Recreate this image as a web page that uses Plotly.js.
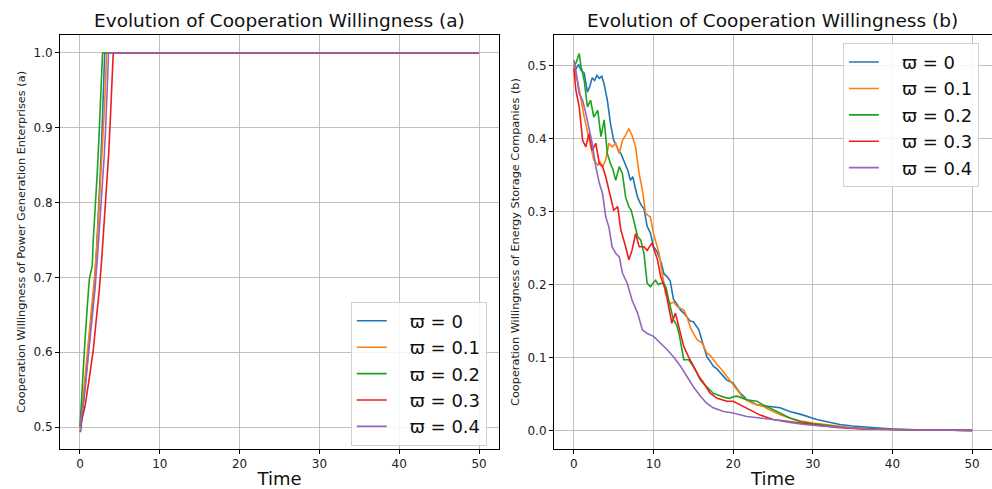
<!DOCTYPE html>
<html>
<head>
<meta charset="utf-8">
<script src="https://cdn.plot.ly/plotly-3.0.1.min.js"></script>
<style>html,body{margin:0;padding:0;background:#fff;}#chart{width:992px;height:489px;}</style>
</head>
<body>
<div id="chart"></div>
<script>
// ---------- data ----------
const seriesNames = ['ϖ = 0', 'ϖ = 0.1', 'ϖ = 0.2', 'ϖ = 0.3', 'ϖ = 0.4'];
const seriesColors = ['#1f77b4', '#ff7f0e', '#1ca31c', '#ee1c1c', '#9467bd'];
const xTicks = [0, 10, 20, 30, 40, 50];
const yTicksA = [0.5, 0.6, 0.7, 0.8, 0.9, 1.0];
const yTicksB = [0.0, 0.1, 0.2, 0.3, 0.4, 0.5];

// (a) Power generation enterprises
const a0_t = [0, 0.1, 0.6, 1.0, 1.4, 1.8, 2.1, 2.35, 2.55, 2.75, 2.9, 3.05, 3.1, 50];
const a0_v = [0.493, 0.495, 0.55, 0.6, 0.645, 0.69, 0.74, 0.79, 0.84, 0.89, 0.94, 0.98, 1.0, 1.0];
const a1_t = [0, 0.5, 0.92, 1.25, 1.58, 1.875, 2.17, 2.42, 2.67, 2.875, 3.08, 3.25, 3.33, 50];
const a1_v = [0.495, 0.549, 0.594, 0.63, 0.67, 0.706, 0.75, 0.795, 0.84, 0.885, 0.929, 0.974, 1.0, 1.0];
const a2_t = [0, 0.2, 0.42, 0.63, 0.92, 1.17, 1.375, 1.54, 1.67, 1.96, 2.17, 2.375, 2.58, 2.75, 2.83, 50];
const a2_v = [0.5, 0.54, 0.571, 0.616, 0.661, 0.697, 0.708, 0.715, 0.75, 0.795, 0.84, 0.885, 0.929, 0.974, 1.0, 1.0];
const a3_t = [0, 0.33, 0.625, 1.25, 1.67, 2.0, 2.42, 2.75, 3.04, 3.33, 3.58, 3.79, 4.0, 4.17, 50];
const a3_v = [0.5, 0.513, 0.527, 0.571, 0.603, 0.639, 0.683, 0.728, 0.773, 0.818, 0.862, 0.907, 0.952, 1.0, 1.0];
const a4_t = [0, 0.63, 1.04, 1.46, 1.875, 2.2, 2.5, 2.79, 3.04, 3.25, 3.42, 3.58, 50];
const a4_v = [0.5, 0.549, 0.594, 0.639, 0.683, 0.728, 0.773, 0.818, 0.862, 0.907, 0.952, 1.0, 1.0];

// (b) Energy storage companies
const b0_t = [0, 0.3, 0.6, 0.9, 1.3, 1.5, 1.7, 2.0, 2.3, 2.6, 2.9, 3.2, 3.5, 3.8, 4.2, 4.6, 5.0, 5.3, 5.6, 5.9, 6.2, 6.5, 6.8, 7.1, 7.4, 7.7, 8.0, 8.4, 8.8, 9.2, 9.6, 10.0, 10.4, 10.7, 11.0, 11.3, 11.7, 12.1, 12.5, 13.0, 13.4, 13.8, 14.2, 14.6, 15.0, 15.4, 15.7, 16.0, 16.3, 16.7, 17.1, 17.5, 18.0, 18.4, 18.8, 19.2, 19.6, 20.0, 20.5, 20.9, 21.3, 21.7, 22.3, 23.0, 23.6, 24.2, 25.0, 25.9, 27.1, 28.5, 30.5, 32.0, 33.4, 35.0, 37.0, 40.0, 43.0, 46.0, 50.0];
const b0_v = [0.500, 0.497, 0.502, 0.494, 0.490, 0.478, 0.464, 0.472, 0.484, 0.480, 0.487, 0.483, 0.486, 0.475, 0.453, 0.421, 0.398, 0.392, 0.384, 0.380, 0.372, 0.362, 0.356, 0.343, 0.348, 0.333, 0.320, 0.310, 0.304, 0.280, 0.271, 0.252, 0.246, 0.238, 0.229, 0.215, 0.211, 0.205, 0.180, 0.172, 0.165, 0.161, 0.156, 0.150, 0.149, 0.142, 0.138, 0.126, 0.115, 0.101, 0.095, 0.088, 0.084, 0.079, 0.075, 0.069, 0.067, 0.065, 0.057, 0.051, 0.047, 0.042, 0.039, 0.035, 0.034, 0.033, 0.032, 0.031, 0.026, 0.022, 0.015, 0.011, 0.008, 0.006, 0.004, 0.002, 0.001, 0.0005, 0.0];
const b1_t = [0, 0.25, 0.5, 0.9, 1.3, 1.7, 2.1, 2.5, 3.0, 3.3, 3.6, 4.0, 4.4, 4.8, 5.25, 5.7, 6.1, 6.5, 6.9, 7.3, 7.75, 8.2, 8.6, 9.0, 9.3, 9.6, 10.0, 10.4, 10.7, 11.1, 11.5, 12.1, 12.5, 13.0, 13.4, 13.8, 14.2, 14.6, 15.0, 15.5, 16.1, 16.7, 17.1, 17.5, 18.0, 18.6, 19.1, 19.6, 20.0, 20.5, 20.9, 21.3, 21.9, 22.5, 23.2, 23.8, 24.4, 25.0, 26.0, 27.1, 28.5, 30.0, 32.0, 34.0, 36.0, 38.0, 41.0, 45.0, 50.0];
const b1_v = [0.500, 0.485, 0.478, 0.453, 0.430, 0.410, 0.389, 0.371, 0.364, 0.368, 0.362, 0.371, 0.394, 0.389, 0.394, 0.380, 0.398, 0.405, 0.414, 0.405, 0.389, 0.352, 0.330, 0.298, 0.295, 0.293, 0.270, 0.255, 0.243, 0.215, 0.188, 0.174, 0.176, 0.170, 0.168, 0.165, 0.156, 0.142, 0.133, 0.124, 0.120, 0.106, 0.103, 0.097, 0.090, 0.083, 0.076, 0.069, 0.063, 0.056, 0.050, 0.044, 0.040, 0.037, 0.035, 0.033, 0.029, 0.026, 0.021, 0.017, 0.013, 0.010, 0.007, 0.005, 0.003, 0.002, 0.001, 0.0005, 0.0];
const b2_t = [0, 0.3, 0.67, 0.9, 1.3, 1.7, 2.1, 2.5, 3.0, 3.4, 3.8, 4.2, 4.6, 4.9, 5.25, 5.7, 6.1, 6.5, 6.9, 7.2, 7.5, 8.0, 8.4, 8.8, 9.2, 9.6, 10.0, 10.25, 10.6, 10.9, 11.3, 11.6, 11.9, 12.2, 12.5, 12.9, 13.2, 13.5, 13.8, 14.4, 15.0, 15.4, 15.9, 16.3, 16.7, 17.1, 17.5, 18.0, 18.4, 19.0, 19.6, 20.0, 20.5, 21.1, 21.7, 22.3, 23.0, 23.6, 24.2, 25.5, 27.1, 28.5, 30.0, 32.0, 34.0, 36.0, 38.0, 41.0, 45.0, 50.0];
const b2_v = [0.500, 0.505, 0.517, 0.499, 0.480, 0.444, 0.453, 0.430, 0.439, 0.403, 0.426, 0.380, 0.366, 0.358, 0.343, 0.362, 0.352, 0.320, 0.307, 0.302, 0.289, 0.266, 0.261, 0.243, 0.202, 0.197, 0.203, 0.206, 0.200, 0.202, 0.202, 0.195, 0.179, 0.165, 0.152, 0.145, 0.133, 0.115, 0.097, 0.097, 0.088, 0.080, 0.069, 0.064, 0.060, 0.055, 0.051, 0.049, 0.047, 0.045, 0.044, 0.046, 0.047, 0.044, 0.042, 0.041, 0.040, 0.036, 0.033, 0.026, 0.017, 0.012, 0.009, 0.006, 0.004, 0.003, 0.002, 0.001, 0.0005, 0.0];
const b3_t = [0, 0.25, 0.67, 1.1, 1.5, 1.9, 2.3, 2.75, 3.2, 3.6, 4.0, 4.6, 5.0, 5.5, 5.9, 6.5, 6.9, 7.3, 7.75, 8.2, 8.8, 9.2, 9.8, 10.5, 10.9, 11.5, 11.9, 12.3, 12.75, 13.2, 13.8, 14.4, 15.0, 15.7, 16.3, 17.1, 18.0, 19.2, 20.0, 20.9, 22.1, 23.4, 25.0, 27.1, 29.0, 31.0, 33.0, 36.0, 40.0, 45.0, 50.0];
const b3_v = [0.497, 0.467, 0.444, 0.398, 0.389, 0.407, 0.384, 0.394, 0.366, 0.362, 0.348, 0.320, 0.302, 0.307, 0.275, 0.252, 0.234, 0.247, 0.270, 0.252, 0.252, 0.247, 0.257, 0.234, 0.211, 0.193, 0.170, 0.147, 0.161, 0.142, 0.115, 0.101, 0.088, 0.074, 0.065, 0.051, 0.044, 0.040, 0.040, 0.035, 0.028, 0.021, 0.015, 0.012, 0.009, 0.006, 0.004, 0.002, 0.001, 0.0005, 0.0];
const b4_t = [0, 0.25, 0.67, 1.1, 1.5, 1.9, 2.3, 2.75, 3.2, 3.6, 4.0, 4.4, 4.8, 5.25, 5.7, 6.1, 6.7, 7.3, 8.0, 8.6, 9.2, 10.0, 10.9, 11.7, 12.5, 13.4, 14.2, 15.0, 15.9, 16.7, 17.5, 18.8, 20.0, 21.7, 23.4, 25.0, 27.1, 29.0, 31.0, 34.0, 37.0, 41.0, 45.0, 50.0];
const b4_v = [0.508, 0.494, 0.462, 0.453, 0.435, 0.416, 0.394, 0.362, 0.339, 0.325, 0.293, 0.279, 0.252, 0.243, 0.238, 0.216, 0.202, 0.179, 0.161, 0.138, 0.133, 0.129, 0.120, 0.111, 0.101, 0.088, 0.074, 0.060, 0.047, 0.037, 0.031, 0.026, 0.024, 0.019, 0.017, 0.015, 0.011, 0.008, 0.006, 0.004, 0.002, 0.001, 0.0005, 0.0];

// ---------- traces ----------
const aT = [a0_t, a1_t, a2_t, a3_t, a4_t], aV = [a0_v, a1_v, a2_v, a3_v, a4_v];
const bT = [b0_t, b1_t, b2_t, b3_t, b4_t], bV = [b0_v, b1_v, b2_v, b3_v, b4_v];
const traces = [];
for (let i = 0; i < 5; i++) {
  traces.push({x: aT[i], y: aV[i], type: 'scatter', mode: 'lines', name: '\u2003' + seriesNames[i],
    line: {color: seriesColors[i], width: 1.6}, xaxis: 'x', yaxis: 'y', legend: 'legend'});
}
for (let i = 0; i < 5; i++) {
  traces.push({x: bT[i], y: bV[i], type: 'scatter', mode: 'lines', name: '\u2003' + seriesNames[i],
    line: {color: seriesColors[i], width: 1.6}, xaxis: 'x2', yaxis: 'y2', legend: 'legend2'});
}

const F = 'DejaVu Sans, Liberation Sans, sans-serif';
const axBase = {
  showline: true, linecolor: '#000', linewidth: 1, mirror: true,
  ticks: 'outside', ticklen: 4, tickcolor: '#000', tickwidth: 1,
  showgrid: true, gridcolor: '#b0b0b0', gridwidth: 0.8, zeroline: false,
  tickfont: {family: F, size: 12, color: '#222'}
};
const legBase = {
  font: {family: F, size: 18, color: '#111'}, bgcolor: 'rgba(255,255,255,0.85)',
  bordercolor: '#d0d0d0', borderwidth: 1, xanchor: 'left', yanchor: 'top', tracegroupgap: 0
};

const layout = {
  width: 992, height: 489,
  margin: {l: 60, r: 0, t: 35, b: 40, pad: 0},
  paper_bgcolor: '#fff', plot_bgcolor: '#fff',
  showlegend: true,
  xaxis: Object.assign({}, axBase, {domain: [0, 0.4710], range: [-2.5, 52.5], tickvals: xTicks, anchor: 'y',
    title: {text: 'Time', font: {family: F, size: 18, color: '#111'}, standoff: 5}}),
  yaxis: Object.assign({}, axBase, {range: [0.4706, 1.024], tickvals: yTicksA, tickformat: '.1f', anchor: 'x',
    title: {text: 'Cooperation Willingness of Power Generation Enterprises (a)', font: {family: F, size: 11.3, color: '#222'}, standoff: 5}}),
  xaxis2: Object.assign({}, axBase, {domain: [0.5300, 1], range: [-2.5, 52.5], tickvals: xTicks, anchor: 'y2',
    title: {text: 'Time', font: {family: F, size: 18, color: '#111'}, standoff: 5}}),
  yaxis2: Object.assign({}, axBase, {range: [-0.0255, 0.5425], tickvals: yTicksB, tickformat: '.1f', anchor: 'x2',
    title: {text: 'Cooperation Willingness of Energy Storage Companies (b)', font: {family: F, size: 11.3, color: '#222'}, standoff: 5}}),
  legend: Object.assign({}, legBase, {x: 0.312, y: 0.356}),
  legend2: Object.assign({}, legBase, {x: 0.840, y: 0.981}),
  annotations: [
    {text: 'Evolution of Cooperation Willingness (a)', xref: 'paper', yref: 'paper', x: 0.2355, y: 1, yshift: 15,
     xanchor: 'center', yanchor: 'middle', showarrow: false, font: {family: F, size: 18.5, color: '#111'}},
    {text: 'Evolution of Cooperation Willingness (b)', xref: 'paper', yref: 'paper', x: 0.765, y: 1, yshift: 15,
     xanchor: 'center', yanchor: 'middle', showarrow: false, font: {family: F, size: 18.5, color: '#111'}}
  ]
};

Plotly.newPlot('chart', traces, layout, {displayModeBar: false, staticPlot: true});
</script>
</body>
</html>
